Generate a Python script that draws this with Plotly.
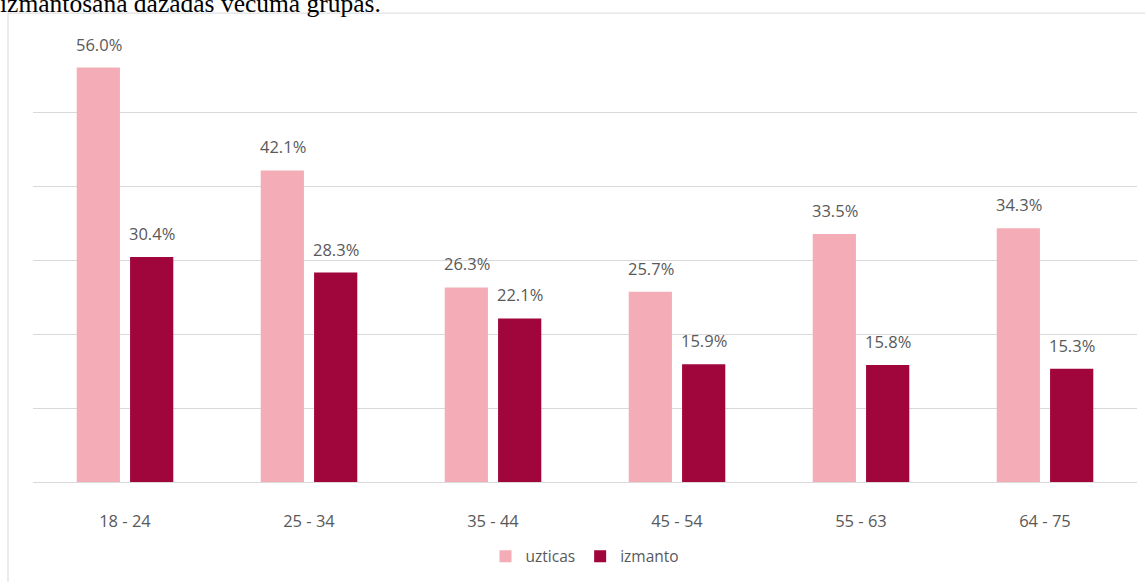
import plotly.graph_objects as go

categories = ["18 - 24", "25 - 34", "35 - 44", "45 - 54", "55 - 63", "64 - 75"]
uzticas = [56.0, 42.1, 26.3, 25.7, 33.5, 34.3]
izmanto = [30.4, 28.3, 22.1, 15.9, 15.8, 15.3]
series_names = ["uzticas", "izmanto"]
colors = ["#F4ADB6", "#A0063C"]
title_text = "izmantošana dažādās vecuma grupās."

W, H = 1145, 582
ml, mr, mt, mb = 33, 8, 37, 98
pw, ph = W - ml - mr, H - mt - mb
ymax = 60 + (38 - mt) / ((484 - 38) / 60)

fig = go.Figure()
for name, vals, col in zip(series_names, [uzticas, izmanto], colors):
    fig.add_trace(go.Bar(x=categories, y=vals, name=name, marker_color=col,
                         marker_line_width=0))

font_family = "Open Sans, Noto Sans, sans-serif"
label_col = "#595959"

annotations = []
for vals, shift in [(uzticas, -26.5), (izmanto, 26.5)]:
    for c, v in zip(categories, vals):
        annotations.append(dict(x=c, y=v, xref="x", yref="y", text=f"{v:.1f}%",
                                showarrow=False, xshift=shift, yshift=10,
                                yanchor="bottom", xanchor="center",
                                font=dict(family=font_family, size=16.5, color=label_col)))

annotations.append(dict(x=-ml / pw, y=1 + (mt - 20) / ph, xref="paper", yref="paper",
                        text=title_text, showarrow=False, xanchor="left", yanchor="bottom",
                        xshift=-2,
                        font=dict(family="Liberation Serif, Times New Roman, serif",
                                  size=25.5, color="#000000")))

fig.update_layout(
    width=W, height=H,
    margin=dict(l=ml, r=mr, t=mt, b=mb),
    paper_bgcolor="white", plot_bgcolor="white",
    barmode="group", bargap=0.42, bargroupgap=0.19,
    showlegend=True,
    legend=dict(orientation="h", x=0.5, xanchor="center",
                y=-(559 - 484) / ph, yanchor="middle",
                font=dict(family=font_family, size=15.5, color=label_col),
                itemwidth=30, tracegroupgap=0),
    annotations=annotations,
    shapes=[dict(type="rect", xref="paper", yref="paper",
                 x0=(8 - ml) / pw, x1=(1160 - ml) / pw,
                 y0=-(600 - 484) / ph, y1=1 + (mt - 13) / ph,
                 line=dict(color="#D9D9D9", width=1), layer="below")],
)
fig.update_xaxes(showgrid=False, showline=True, linecolor="#D9D9D9", linewidth=1,
                 ticks="", ticklabelstandoff=24,
                 tickfont=dict(family=font_family, size=16.5, color=label_col))
fig.update_yaxes(range=[0, ymax], tickvals=[10, 20, 30, 40, 50, 60], showticklabels=False,
                 showgrid=True, gridcolor="#D9D9D9", gridwidth=1, zeroline=False,
                 showline=False)

fig.write_html("out.html", config={"displayModeBar": False},
               post_script="document.body.style.margin='0';")
